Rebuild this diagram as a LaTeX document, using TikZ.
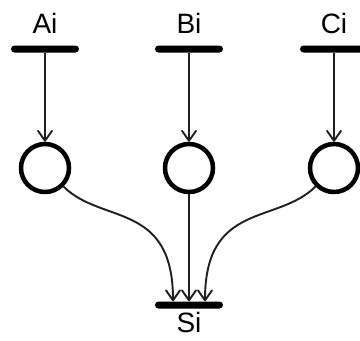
\documentclass[tikz,border=0pt]{standalone}
\usepackage{fontspec}
\setmainfont{Liberation Sans}
\usetikzlibrary{arrows.meta}
\begin{document}
\begin{tikzpicture}[x=1pt,y=-1pt,
  bar/.style={fill=black,rectangle,rounded corners=3.5pt,minimum width=68pt,minimum height=7pt,inner sep=0pt},
  place/.style={draw,circle,line width=4.5pt,minimum size=48pt,inner sep=0pt},
  lbl/.style={font=\fontsize{28}{32}\selectfont,inner sep=0pt},
  arr/.style={line width=1.9pt,draw={black!88},-{Straight Barb[length=10pt,width=14pt,round]}}]
\useasboundingbox (0,0) rectangle (360,341);
\node[lbl] (la) at (45,23) {Ai};
\node[lbl] (lb) at (189,23) {Bi};
\node[lbl] (lc) at (334,23) {Ci};
\node[bar] (ba) at (45,49) {};
\node[bar] (bb) at (189,49) {};
\node[bar] (bc) at (334,49) {};
\node[place] (ca) at (45,168) {};
\node[place] (cb) at (189,168) {};
\node[place] (cc) at (334,168) {};
\node[bar] (bs) at (189,305) {};
\node[lbl] (ls) at (189,322) {Si};
\coordinate (sa) at ([xshift=-16pt]bs.north);
\coordinate (sb) at (bs.north);
\coordinate (sc) at ([xshift=16pt]bs.north);
\draw[arr] (ba) -- (ca);
\draw[arr] (bb) -- (cb);
\draw[arr] (bc) -- (cc);
\draw[arr] (ca.-45) .. controls +(38,38) and +(0,-100) .. (sa);
\draw[arr] (cb) -- (sb);
\draw[arr] (cc.-135) .. controls +(-38,38) and +(0,-100) .. (sc);
\end{tikzpicture}
\end{document}
